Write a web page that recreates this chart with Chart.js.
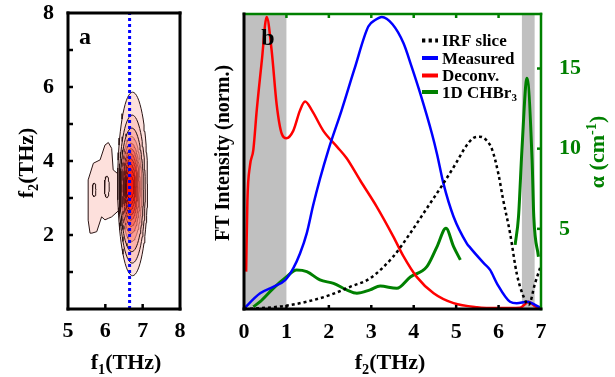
<!DOCTYPE html>
<html>
<head>
<meta charset="utf-8">
<script src="https://cdn.jsdelivr.net/npm/chart.js@4.4.1/dist/chart.umd.min.js"></script>
<style>
html, body { margin: 0; padding: 0; background: #fff; }
#wrap { position: relative; width: 615px; height: 377px; }
#boxA { position: absolute; left: 0; top: 0; width: 200px; height: 377px; }
#boxB { position: absolute; left: 200px; top: 0; width: 415px; height: 377px; }
</style>
</head>
<body>
<div id="wrap">
  <div id="boxA"><canvas id="chartA"></canvas></div>
  <div id="boxB"><canvas id="chartB"></canvas></div>
</div>
<script>
// ---- panel a: 2D spectrum contours ----
const sliceF1 = 6.65;
const f2Range = [0, 8];

// side lobe (left of the main peak)
const blobF1 = [5.59, 5.54, 5.54, 5.68, 5.86, 5.99, 6.08, 6.17, 6.21, 6.40, 6.40, 6.17, 6.08, 5.99, 5.90, 5.77, 5.64, 5.59];
const blobF2 = [2.05, 2.40, 3.49, 3.94, 4.03, 4.43, 4.50, 4.34, 3.76, 3.60, 2.70, 2.49, 2.45, 2.41, 2.49, 2.09, 2.05, 2.05];
const islandCx = [5.70, 6.04];
const islandCy = [3.22, 3.30];
const islandRx = [0.05, 0.065];
const islandRy = [0.18, 0.29];

// main peak contour levels, outer -> inner
const ringCx = [6.73, 6.72, 6.71, 6.70, 6.69, 6.69, 6.68, 6.68, 6.67, 6.67, 6.66];
const ringCy = [3.38, 3.24, 3.22, 3.24, 3.26, 3.28, 3.30, 3.30, 3.30, 3.30, 3.30];
const ringRx = [0.40, 0.35, 0.31, 0.275, 0.245, 0.215, 0.19, 0.165, 0.14, 0.12, 0.10];
const ringRy = [2.48, 2.00, 1.67, 1.42, 1.22, 1.05, 0.90, 0.76, 0.62, 0.48, 0.32];
const ringFill = ['#fde0dc', '#fccac3', '#fbb3aa', '#fa9b90', '#fa8377', '#fa6c5f', '#fb5548', '#fc4234', '#fd3224', '#fe2418', '#ff180e'];

// ---- panel b: slices ----
const irfF = [0, 0.5, 0.93, 1.48, 2.03, 2.5, 2.97, 3.52, 3.92, 4.31, 4.70, 5.0, 5.2, 5.4, 5.55, 5.7, 5.85, 6.0, 6.1, 6.27, 6.43, 6.59, 6.71, 6.86, 7.0];
const irfI = [0, 0.004, 0.01, 0.025, 0.048, 0.076, 0.105, 0.18, 0.26, 0.345, 0.43, 0.50, 0.55, 0.585, 0.59, 0.58, 0.545, 0.46, 0.38, 0.26, 0.12, 0.042, 0.014, 0.088, 0.15];

const measF = [0, 0.06, 0.38, 0.69, 0.97, 1.16, 1.32, 1.48, 1.63, 1.79, 1.99, 2.3, 2.6, 2.93, 3.1, 3.25, 3.5, 3.76, 3.95, 4.15, 4.43, 4.55, 4.70, 4.94, 5.25, 5.33, 5.65, 5.8, 5.96, 6.27, 6.43, 6.67, 6.85, 7.0];
const measI = [0, 0.01, 0.054, 0.076, 0.099, 0.139, 0.19, 0.26, 0.355, 0.445, 0.545, 0.68, 0.82, 0.967, 0.99, 1.0, 0.975, 0.91, 0.83, 0.74, 0.6, 0.53, 0.43, 0.316, 0.225, 0.21, 0.157, 0.134, 0.088, 0.025, 0.02, 0.025, 0.015, 0.003];

const decF = [0.05, 0.08, 0.14, 0.22, 0.3, 0.42, 0.535, 0.65, 0.77, 0.89, 1.0, 1.16, 1.32, 1.44, 1.6, 1.87, 2.19, 2.42, 2.74, 3.13, 3.52, 3.76, 4.07, 4.47, 4.94, 5.49, 6.0, 6.5, 6.71, 6.85, 7.0];
const decI = [0.128, 0.37, 0.49, 0.545, 0.68, 0.85, 1.0, 0.887, 0.70, 0.60, 0.585, 0.61, 0.68, 0.71, 0.68, 0.61, 0.556, 0.516, 0.44, 0.35, 0.248, 0.18, 0.11, 0.054, 0.02, 0.006, 0.003, 0.004, 0.025, 0.01, 0];

const chbrF = [0.22, 0.38, 0.69, 1.0, 1.24, 1.48, 1.79, 2.11, 2.42, 2.66, 2.97, 3.21, 3.6, 3.92, 4.31, 4.55, 4.76, 4.94, 5.1, 5.5, 6.39, 6.47, 6.55, 6.67, 6.79, 6.83, 6.94];
const chbrA = [0.14, 0.46, 1.29, 2.0, 2.43, 2.33, 1.81, 1.6, 1.19, 0.98, 1.19, 1.43, 1.29, 2.0, 2.64, 3.89, 5.03, 3.89, 3.06, null, 4.0, 5.76, 9.9, 14.4, 9.3, 5.76, 3.26];

const shadeFrom = [0, 6.55];
const shadeTo = [1, 6.85];

const GREEN = '#008000';
const SERIF = '"Liberation Serif", "Times New Roman", serif';
Chart.defaults.font.family = SERIF;

function pts(xs, ys) {
  return xs.map((x, i) => ({x: x, y: ys[i]}));
}
function ellipse(cx, cy, rx, ry) {
  let out = [];
  for (let k = 0; k <= 72; k++) {
    let t = k / 72 * 2 * Math.PI;
    out.push({x: cx + rx * Math.cos(t), y: cy + ry * Math.sin(t)});
  }
  return out;
}
// keep the plot box where afterFit put it
function noEdgePad(s) {
  s.paddingTop = 0; s.paddingBottom = 0; s.paddingLeft = 0; s.paddingRight = 0;
}

// text with _x / ^{..} sub- and superscripts, centred on (x, y)
function parseRich(s) {
  let parts = [], buf = '';
  for (let i = 0; i < s.length; i++) {
    let c = s[i];
    if (c === '_' || c === '^') {
      if (buf) { parts.push({t: buf, k: 0}); buf = ''; }
      let t = '';
      if (s[i + 1] === '{') { let j = s.indexOf('}', i); t = s.slice(i + 2, j); i = j; }
      else { t = s[i + 1]; i++; }
      parts.push({t: t, k: c === '_' ? 1 : 2});
    } else buf += c;
  }
  if (buf) parts.push({t: buf, k: 0});
  return parts;
}
function richText(ctx, s, x, y, size, color, opts) {
  opts = opts || {};
  const parts = parseRich(s);
  ctx.save();
  ctx.translate(x, y);
  if (opts.rot) ctx.rotate(opts.rot);
  ctx.fillStyle = color;
  ctx.textBaseline = 'alphabetic';
  ctx.textAlign = 'left';
  let w = 0;
  parts.forEach(p => {
    ctx.font = 'bold ' + (p.k ? size * 0.65 : size) + 'px ' + SERIF;
    p.w = ctx.measureText(p.t).width;
    w += p.w;
  });
  let cx = opts.left ? 0 : -w / 2;
  const base = size * 0.33;
  parts.forEach(p => {
    ctx.font = 'bold ' + (p.k ? size * 0.65 : size) + 'px ' + SERIF;
    let dy = p.k === 1 ? size * 0.22 : (p.k === 2 ? -size * 0.38 : 0);
    ctx.fillText(p.t, cx, base + dy);
    cx += p.w;
  });
  ctx.restore();
}

function inwardTicks(ctx, scale, side, area, len, color, width) {
  ctx.save();
  ctx.strokeStyle = color;
  ctx.lineWidth = width;
  scale.ticks.forEach(t => {
    if (t.value <= scale.min || t.value >= scale.max) return;
    let p = scale.getPixelForValue(t.value);
    ctx.beginPath();
    if (side === 'bottom') { ctx.moveTo(p, area.bottom); ctx.lineTo(p, area.bottom - len); }
    if (side === 'top') { ctx.moveTo(p, area.top); ctx.lineTo(p, area.top + len); }
    if (side === 'left') { ctx.moveTo(area.left, p); ctx.lineTo(area.left + len, p); }
    if (side === 'right') { ctx.moveTo(area.right, p); ctx.lineTo(area.right - len, p); }
    ctx.stroke();
  });
  ctx.restore();
}
function edge(ctx, x1, y1, x2, y2, color, width) {
  ctx.save();
  ctx.strokeStyle = color;
  ctx.lineWidth = width;
  ctx.lineCap = 'square';
  ctx.beginPath();
  ctx.moveTo(x1, y1);
  ctx.lineTo(x2, y2);
  ctx.stroke();
  ctx.restore();
}

// ---------------- chart a ----------------
let dsA = [];
dsA.push({data: pts(blobF1, blobF2), fill: 'shape', backgroundColor: '#fde0dc', borderColor: '#2a1414', borderWidth: 1});
islandCx.forEach((c, i) => {
  dsA.push({data: ellipse(c, islandCy[i], islandRx[i], islandRy[i]), fill: false, borderColor: '#2a1414', borderWidth: 1});
});
ringCx.forEach((c, i) => {
  dsA.push({data: ellipse(c, ringCy[i], ringRx[i], ringRy[i]), fill: 'shape', backgroundColor: ringFill[i],
    borderColor: i < 3 ? '#2a1414' : 'rgba(60,10,10,0.55)', borderWidth: i < 3 ? 1 : 0.7});
});
dsA.push({data: [{x: sliceF1, y: f2Range[0]}, {x: sliceF1, y: f2Range[1]}], fill: false, borderColor: '#0000ff', borderWidth: 3, borderDash: [3, 3]});
dsA.forEach((d, i) => { d.pointRadius = 0; d.tension = 0; d.order = dsA.length - i; });

const framePluginA = {
  id: 'frameA',
  afterDraw(chart) {
    const ctx = chart.ctx, a = chart.chartArea;
    inwardTicks(ctx, chart.scales.x, 'bottom', a, 5, '#000', 2.5);
    inwardTicks(ctx, chart.scales.y, 'left', a, 5, '#000', 2.5);
    edge(ctx, a.left, a.top, a.right, a.top, '#000', 3);
    edge(ctx, a.right, a.top, a.right, a.bottom, '#000', 3);
    edge(ctx, a.left, a.bottom, a.right, a.bottom, '#000', 3);
    edge(ctx, a.left, a.top, a.left, a.bottom, '#000', 3);
    richText(ctx, 'a', 85, 36, 24, '#000');
    richText(ctx, 'f_2(THz)', 26, 163, 22, '#000', {rot: -Math.PI / 2});
    richText(ctx, 'f_1(THz)', 126, 362, 22, '#000');
  }
};

new Chart(document.getElementById('chartA'), {
  type: 'line',
  data: {datasets: dsA},
  options: {
    responsive: true,
    maintainAspectRatio: false,
    animation: false,
    layout: {padding: {top: 13, right: 20, left: 0, bottom: 0}},
    plugins: {legend: {display: false}, tooltip: {enabled: false}},
    scales: {
      x: {
        type: 'linear', min: 5, max: 8,
        grid: {display: false}, border: {display: false},
        ticks: {stepSize: 1, color: '#000', font: {size: 22, weight: 'bold'}, padding: 1, maxRotation: 0},
        afterFit(s) { s.height = 68; noEdgePad(s); }
      },
      y: {
        type: 'linear', min: 0, max: 8,
        grid: {display: false}, border: {display: false},
        ticks: {stepSize: 1, color: '#000', font: {size: 22, weight: 'bold'}, padding: 6,
          callback: v => (v > 0 && v % 2 === 0) ? v : ''},
        afterFit(s) { s.width = 68; noEdgePad(s); }
      }
    }
  },
  plugins: [framePluginA]
});

// ---------------- chart b ----------------
const lineBase = {pointRadius: 0, fill: false, cubicInterpolationMode: 'monotone', spanGaps: false};
const dsB = [
  Object.assign({label: 'IRF slice', data: pts(irfF, irfI), borderColor: '#000', borderWidth: 2.5, borderDash: [3, 3], yAxisID: 'y'}, lineBase),
  Object.assign({label: 'Measured', data: pts(measF, measI), borderColor: '#0000ff', borderWidth: 2.5, yAxisID: 'y'}, lineBase),
  Object.assign({label: 'Deconv.', data: pts(decF, decI), borderColor: '#ff0000', borderWidth: 2.5, yAxisID: 'y'}, lineBase),
  Object.assign({label: '1D CHBr_3', data: pts(chbrF, chbrA), borderColor: GREEN, borderWidth: 3, yAxisID: 'y2'}, lineBase)
];

const framePluginB = {
  id: 'frameB',
  beforeDatasetsDraw(chart) {
    const ctx = chart.ctx, a = chart.chartArea, x = chart.scales.x;
    ctx.save();
    ctx.fillStyle = '#c0c0c0';
    shadeFrom.forEach((f, i) => {
      let x1 = x.getPixelForValue(f), x2 = x.getPixelForValue(shadeTo[i]);
      ctx.fillRect(x1, a.top, x2 - x1, a.bottom - a.top);
    });
    ctx.restore();
  },
  afterDraw(chart) {
    const ctx = chart.ctx, a = chart.chartArea;
    inwardTicks(ctx, chart.scales.x, 'bottom', a, 4, '#000', 2.5);
    inwardTicks(ctx, chart.scales.x, 'top', a, 4, GREEN, 2.5);
    inwardTicks(ctx, chart.scales.y2, 'right', a, 4, GREEN, 2.5);
    edge(ctx, a.left, a.top, a.right, a.top, GREEN, 2.5);
    edge(ctx, a.right, a.top, a.right, a.bottom, GREEN, 2.5);
    edge(ctx, a.left, a.bottom, a.right, a.bottom, '#000', 3);
    edge(ctx, a.left, a.top, a.left, a.bottom, '#000', 3);

    // legend
    const rowY = [40.5, 58, 75.5, 92];
    chart.data.datasets.forEach((d, i) => {
      ctx.save();
      ctx.strokeStyle = d.borderColor;
      ctx.lineWidth = 4;
      ctx.setLineDash(d.borderDash ? [3.3, 3.3] : []);
      ctx.beginPath();
      ctx.moveTo(222, rowY[i]);
      ctx.lineTo(238, rowY[i]);
      ctx.stroke();
      ctx.restore();
      richText(ctx, d.label, 242, rowY[i], 17, '#000', {left: true});
    });

    richText(ctx, 'b', 68, 37, 24, '#000');
    richText(ctx, 'FT Intensity (norm.)', 22, 153, 20, '#000', {rot: -Math.PI / 2});
    richText(ctx, 'f_2(THz)', 190, 362, 22, '#000');
    richText(ctx, '\u03b1 (cm^{-1})', 397, 152, 22, GREEN, {rot: -Math.PI / 2});
  }
};

new Chart(document.getElementById('chartB'), {
  type: 'line',
  data: {datasets: dsB},
  options: {
    responsive: true,
    maintainAspectRatio: false,
    animation: false,
    layout: {padding: {top: 14, right: 0, left: 0, bottom: 0}},
    plugins: {legend: {display: false}, tooltip: {enabled: false}},
    scales: {
      x: {
        type: 'linear', min: 0, max: 7,
        grid: {display: false}, border: {display: false},
        ticks: {stepSize: 1, color: '#000', font: {size: 22, weight: 'bold'}, padding: 2, maxRotation: 0},
        afterFit(s) { s.height = 68; noEdgePad(s); }
      },
      y: {
        type: 'linear', min: 0, max: 1.01,
        grid: {display: false}, border: {display: false},
        ticks: {display: false},
        afterFit(s) { s.width = 44; noEdgePad(s); }
      },
      y2: {
        type: 'linear', position: 'right', min: 0, max: 18.4,
        grid: {display: false}, border: {display: false},
        ticks: {stepSize: 5, includeBounds: false, color: GREEN, font: {size: 22, weight: 'bold'}, padding: 10,
          callback: v => v === 0 ? '' : v},
        afterFit(s) { s.width = 74; noEdgePad(s); }
      }
    }
  },
  plugins: [framePluginB]
});
</script>
</body>
</html>
